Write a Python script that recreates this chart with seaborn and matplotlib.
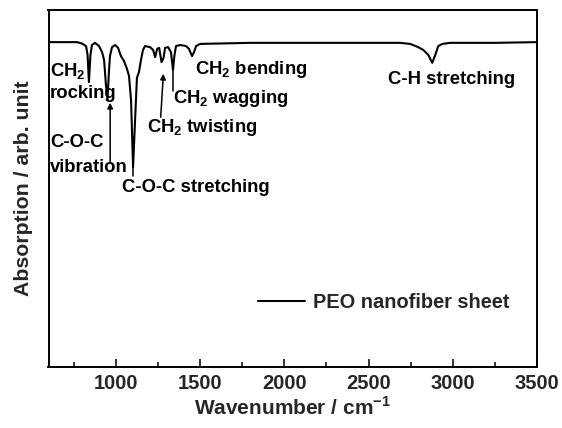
import matplotlib
matplotlib.use("Agg")
import matplotlib.pyplot as plt
import seaborn as sns
import pandas as pd
from matplotlib.ticker import MultipleLocator

# Spectrum (wavenumber, relative signal)
wavenumber = [600, 769, 799, 823, 832, 840, 849, 858, 876, 900, 918, 930, 941, 950,
              959, 965, 977, 995, 1013, 1030, 1048, 1066, 1078, 1090, 1102, 1114,
              1125, 1137, 1149, 1161, 1173, 1203, 1221, 1233, 1245, 1257, 1271, 1283,
              1292, 1310, 1327, 1339, 1348, 1357, 1381, 1416, 1434, 1452, 1464, 1476,
              1500, 1797, 2094, 2391, 2687, 2747, 2795, 2825, 2855, 2878, 2896, 2914,
              2938, 2985, 3250, 3500]
signal = [91.0, 91.0, 90.6, 89.9, 87.4, 79.8, 87.4, 90.2, 90.8, 89.9, 88.2, 86.0, 79.0, 74.8,
          82.9, 87.1, 89.6, 90.2, 89.4, 87.1, 85.7, 83.5, 81.5, 74.8, 56.0, 69.2,
          81.0, 82.6, 86.0, 88.8, 89.9, 89.6, 88.8, 86.8, 89.1, 89.4, 85.4, 86.6,
          89.4, 89.6, 88.2, 83.2, 87.4, 89.9, 90.2, 89.9, 89.1, 87.1, 88.2, 89.9,
          90.5, 90.8, 90.8, 90.8, 90.8, 90.5, 89.6, 88.8, 87.4, 85.2, 87.4, 89.9,
          90.5, 90.8, 90.8, 91.0]

series_label = "PEO nanofiber sheet"
x_label = r"Wavenumber / cm$^{\mathbf{-1}}$"
y_label = "Absorption / arb. unit"
x_ticks = [1000, 1500, 2000, 2500, 3000, 3500]

df = pd.DataFrame({"wavenumber": wavenumber, "signal": signal})

sns.set_style("white")
plt.rcParams["font.family"] = ["Liberation Sans", "DejaVu Sans"]
plt.rcParams["mathtext.fontset"] = "custom"
plt.rcParams["mathtext.rm"] = "Liberation Sans"
plt.rcParams["mathtext.bf"] = "Liberation Sans:bold"

fig = plt.figure(figsize=(5.62, 4.28), dpi=100)
ax = fig.add_axes([48.5 / 562, 1 - 367 / 428, (537 - 48.5) / 562, (367 - 10) / 428])

sns.lineplot(data=df, x="wavenumber", y="signal", ax=ax, color="black",
             linewidth=1.5, label=series_label, sort=False)

ax.set_xlim(600, 3500)
ax.set_ylim(0, 100)
ax.set_xticks(x_ticks)
ax.xaxis.set_minor_locator(MultipleLocator(250))
ax.set_yticks([])
ax.tick_params(axis="x", which="major", direction="in", length=5.5, width=1.3,
               labelsize=14.5, pad=5, bottom=True)
ax.tick_params(axis="x", which="minor", direction="in", length=3.5, width=1.3, bottom=True)
for lab in ax.get_xticklabels():
    lab.set_fontweight("bold")
for s in ax.spines.values():
    s.set_linewidth(1.4)
    s.set_color("black")

ax.set_xlabel(x_label, fontsize=15, fontweight="bold", labelpad=2)
ax.set_ylabel(y_label, fontsize=15.3, fontweight="bold", labelpad=11)

leg = ax.legend(loc="center left", bbox_to_anchor=((258 - 48.5) / 488.5, (367 - 302) / 357),
                frameon=False, fontsize=14.4, handlelength=2.35, handletextpad=0.4,
                borderpad=0, borderaxespad=0)
for t in leg.get_texts():
    t.set_fontweight("bold")

def yv(py):
    return (367 - py) / 3.57

fs = 13.3
kw = dict(fontsize=fs, fontweight="bold", color="black", va="center", ha="left")
sub = r"CH$_\mathbf{2}$"
ax.text(609, yv(71), sub, **kw)
ax.text(609, yv(94), "rocking", **kw)
ax.text(609, yv(143), "C-O-C", **kw)
ax.text(609, yv(168), "vibration", **kw)
ax.text(1036, yv(188), "C-O-C stretching", **kw)
ax.text(1185, yv(128), sub + " twisting", **kw)
ax.text(1339, yv(99), sub + " wagging", **kw)
ax.text(1470, yv(70), sub + " bending", **kw)
ax.text(2615, yv(80), "C-H stretching", **kw)

arrow = dict(arrowstyle="-|>", color="black", lw=1.1, mutation_scale=8)
ax.annotate("", xy=(966, yv(100)), xytext=(966, yv(166)), arrowprops=arrow)
ax.annotate("", xy=(1283, yv(71)), xytext=(1265, yv(120)), arrowprops=arrow)
ax.plot([1339, 1339], [yv(70), yv(91)], color="black", lw=1.1)
ax.plot([1102, 1102], [yv(167), yv(176)], color="black", lw=1.1)

fig.savefig("out.png", dpi=100)
